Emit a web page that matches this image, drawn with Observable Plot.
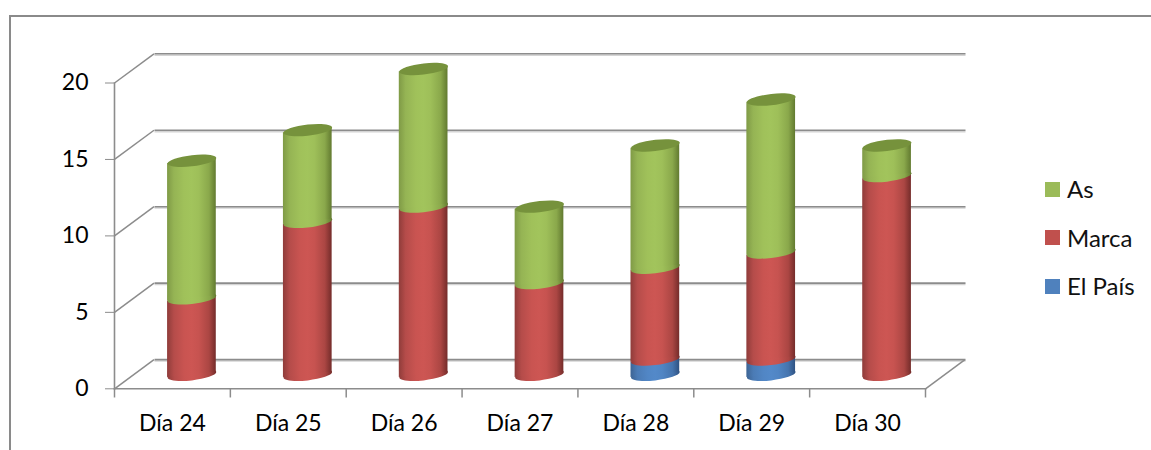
<!DOCTYPE html>
<html><head><meta charset="utf-8">
<style>
html,body{margin:0;padding:0;background:#fff;width:1151px;height:450px;overflow:hidden}
#chart{position:absolute;left:0;top:0}
#frame{position:absolute;left:9px;top:15px;right:0;bottom:0;border-top:2px solid #8a8a8a;border-left:2px solid #8a8a8a;pointer-events:none}
#legend{position:absolute;left:1045px;top:165px;font-family:Lato,sans-serif;font-size:24px;color:#111;line-height:48px}
#legend div{display:flex;align-items:center;height:48.5px}
#legend i{display:inline-block;width:15px;height:15px;margin-right:7px}
</style>
<script src="https://cdn.jsdelivr.net/npm/d3@7"></script>
<script src="https://cdn.jsdelivr.net/npm/@observablehq/plot@0.6"></script>
</head><body>
<div id="chart"></div><div id="frame"></div><div id="legend"></div>
<script>
const days = ["Día 24","Día 25","Día 26","Día 27","Día 28","Día 29","Día 30"];
const elPais = [0,0,0,0,1,1,0];
const marca  = [5,10,11,6,6,7,13];
const as     = [9,6,9,5,8,10,2];
const yTicks = [0,5,10,15,20];
const seriesNames = ["As","Marca","El País"];
const seriesColors = ["#9BBB59","#C0504D","#4F81BD"];

const W=1151,H=450,ML=114,MR=226,MT=82.5,MB=61.7;
const step=(W-ML-MR)/days.length, barW=48.7;
const inner=1-barW/step;
const gridC="#8c8c8c";
const depthDX=39.5, depthDY=-29.2;
const barDX=19.5, barDY=-14, skew=-0.11;
const font="Lato, sans-serif";

// stacked table
let stack=[];
days.forEach((d,i)=>{
  const a=elPais[i], b=a+marca[i], c=b+as[i];
  stack.push({day:d,s:"El País",y1:0,y2:a},{day:d,s:"Marca",y1:a,y2:b},{day:d,s:"As",y1:b,y2:c});
});
stack=stack.filter(r=>r.y2>r.y1);
const tops=days.map((d,i)=>({day:d,y:elPais[i]+marca[i]+as[i]}));

// tilted ellipse as a Plot symbol
const ellipse=(rx,ry,k)=>({draw(c){
  const m=0.5523, P=(x,y)=>[x,y+k*x];
  c.moveTo(...P(-rx,0));
  c.bezierCurveTo(...P(-rx,-m*ry),...P(-m*rx,-ry),...P(0,-ry));
  c.bezierCurveTo(...P(m*rx,-ry),...P(rx,-m*ry),...P(rx,0));
  c.bezierCurveTo(...P(rx,m*ry),...P(m*rx,ry),...P(0,ry));
  c.bezierCurveTo(...P(-m*rx,ry),...P(-rx,m*ry),...P(-rx,0));
  c.closePath();
}});
const cap=ellipse(barW/2,5.6,skew);
const depthLine={draw(c){c.moveTo(0,0);c.lineTo(depthDX,depthDY);}};

const defs=()=>{
  const s=d3.create("svg:defs");
  const mk=(id,edgeL,mid,edgeR)=>{
    const g=s.append("linearGradient").attr("id",id).attr("x1",0).attr("x2",1).attr("y1",0).attr("y2",0);
    [[0,edgeL],[.14,d3.interpolateRgb(edgeL,mid)(.62)],[.35,d3.interpolateRgb(edgeL,mid)(.93)],[.5,mid],[.65,d3.interpolateRgb(edgeR,mid)(.93)],[.86,d3.interpolateRgb(edgeR,mid)(.62)],[1,edgeR]]
      .forEach(([o,c])=>g.append("stop").attr("offset",o).attr("stop-color",c));
  };
  mk("gGreen","#7f9a46","#a2c45c","#627a30");
  mk("gRed","#8f3c3a","#cd5653","#742c2a");
  mk("gBlue","#3d6494","#5389c9","#2f5282");
  return s.node();
};
const fills={"As":"url(#gGreen)","Marca":"url(#gRed)","El País":"url(#gBlue)"};

const skewRects=(index,scales,values,dims,ctx,next)=>{
  const g=next(index,scales,values,dims,ctx);
  d3.select(g).selectAll("rect").each(function(){
    const r=d3.select(this), cx=+r.attr("x")+(+r.attr("width"))/2;
    const deg=Math.atan(skew)*180/Math.PI;
    r.attr("transform",`translate(${cx},0) skewY(${deg}) translate(${-cx},0)`);
  });
  return g;
};

const segMarks=["El País","Marca","As"].flatMap(name=>{
  const rows=stack.filter(r=>r.s===name);
  return [
    Plot.dot(rows,{x:"day",y:"y1",symbol:cap,fill:fills[name],stroke:"none",dx:barDX,dy:barDY}),
    Plot.barY(rows,{x:"day",y1:"y1",y2:"y2",fill:fills[name],dx:barDX,dy:barDY,render:skewRects})
  ];
});

const plot=Plot.plot({
  width:W,height:H,marginLeft:ML,marginRight:MR,marginTop:MT,marginBottom:MB,
  style:{background:"transparent",fontFamily:font},
  x:{type:"band",domain:days,paddingInner:inner,paddingOuter:inner/2,round:false,label:null},
  y:{domain:[0,20],label:null},
  marks:[
    defs,
    // wall shadow + back grid
    Plot.ruleY(yTicks,{stroke:"#d4d4d4",strokeWidth:1.5,dx:depthDX+1,dy:depthDY+1.4}),
    Plot.ruleY(yTicks,{stroke:gridC,strokeWidth:1.6,dx:depthDX+1,dy:depthDY}),
    Plot.dot(yTicks,{y:d=>d,frameAnchor:"left",symbol:depthLine,fill:"none",stroke:gridC,strokeWidth:1.5}),
    Plot.dot([0],{y:d=>d,frameAnchor:"right",symbol:depthLine,fill:"none",stroke:gridC,strokeWidth:1.5}),
    Plot.frame({anchor:"left",stroke:gridC,strokeWidth:1.6}),
    Plot.frame({anchor:"bottom",stroke:gridC,strokeWidth:1.6}),
    Plot.ruleX(days,{x:d=>d,y1:0,y2:-0.6,dx:-step/2,stroke:gridC,strokeWidth:1.5}),
    Plot.ruleX(days.slice(-1),{x:d=>d,y1:0,y2:-0.6,dx:step/2,stroke:gridC,strokeWidth:1.5}),
    Plot.axisY({ticks:yTicks,tickSize:9,tickPadding:17,stroke:gridC,fill:"#000",fontSize:23,fontFamily:font,label:null}),
    Plot.axisX({tickSize:0,tickPadding:26,fill:"#000",fontSize:23,fontFamily:font,label:null}),
    ...segMarks,
    Plot.dot(tops,{x:"day",y:"y",symbol:cap,fill:"#76923c",stroke:"none",dx:barDX,dy:barDY})
  ]
});
document.getElementById("chart").append(plot);
const lg=d3.select("#legend");
seriesNames.forEach((n,i)=>{
  const r=lg.append("div");
  r.append("i").style("background",seriesColors[i]);
  r.append("span").text(n);
});
</script>
</body></html>
